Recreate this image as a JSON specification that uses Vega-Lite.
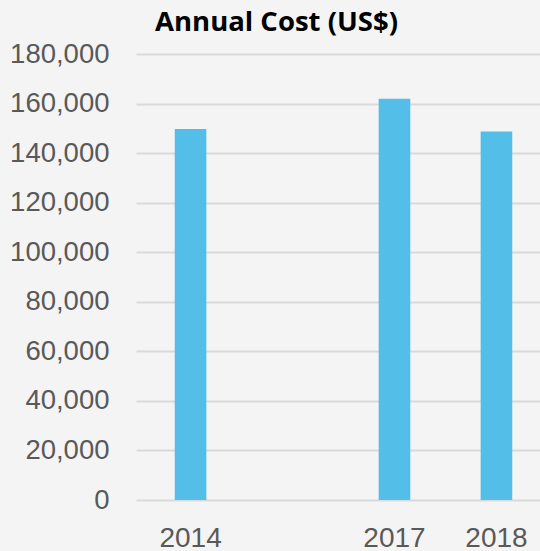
{
  "$schema": "https://vega.github.io/schema/vega-lite/v6.json",
  "autosize": "none",
  "width": 415,
  "height": 446,
  "padding": {"left": 136, "top": 54, "right": 0, "bottom": 51},
  "background": "#f4f4f4",
  "title": {
    "text": "Annual Cost (US$)",
    "font": "Open Sans",
    "fontSize": 27.5,
    "fontWeight": "bold",
    "color": "#000000",
    "anchor": "middle",
    "dx": -67,
    "baseline": "alphabetic",
    "offset": -18
  },
  "data": {
    "values": [
      {"year": "2014", "cost": 149700},
      {"year": "2017", "cost": 161900},
      {"year": "2018", "cost": 148700}
    ]
  },
  "mark": {"type": "bar", "color": "#53bee8"},
  "encoding": {
    "x": {
      "field": "year",
      "type": "ordinal",
      "scale": {"domain": ["2014", "gap", "2017", "2018"], "paddingInner": 0.69, "paddingOuter": 0.38},
      "axis": {
        "title": null,
        "labelAngle": 0,
        "labelExpr": "datum.value == 'gap' ? '' : datum.value",
        "labelFont": "Liberation Sans",
        "labelFontSize": 28,
        "labelColor": "#595959",
        "labelPadding": 24,
        "ticks": false,
        "domain": false
      }
    },
    "y": {
      "field": "cost",
      "type": "quantitative",
      "scale": {"domain": [0, 180000], "nice": false},
      "axis": {
        "title": null,
        "values": [0, 20000, 40000, 60000, 80000, 100000, 120000, 140000, 160000, 180000],
        "format": ",d",
        "labelFont": "Liberation Sans",
        "labelFontSize": 27.5,
        "labelColor": "#595959",
        "labelPadding": 27,
        "ticks": false,
        "domain": false,
        "grid": true,
        "gridColor": "#d9d9d9",
        "gridWidth": 2
      }
    }
  },
  "config": {"view": {"stroke": null}}
}
